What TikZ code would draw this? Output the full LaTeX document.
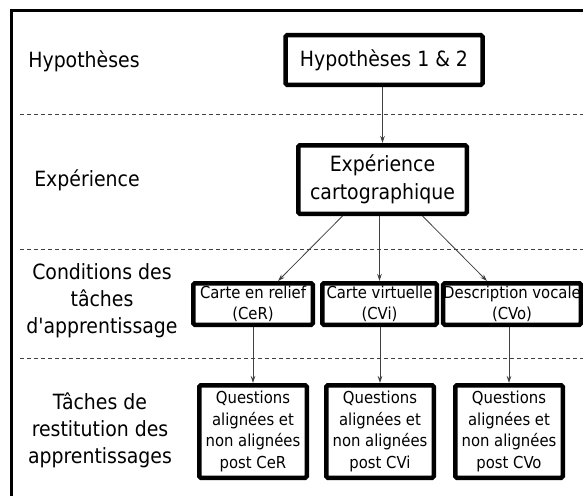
\documentclass[tikz,border=0pt]{standalone}
\usepackage{fontspec}
\setmainfont{DejaVu Sans Condensed}[Ligatures=TeXOff]
\usetikzlibrary{arrows.meta,calc}
\begin{document}
\begin{tikzpicture}[x=1pt,y=-1pt,
  box/.style={draw,line width=4.5pt,rounded corners=1.5pt,align=center,inner sep=0pt},
  big/.style={font=\fontsize{21}{28}\selectfont},
  small/.style={font=\fontsize{16.5}{21.5}\selectfont},
  lab/.style={align=center,inner sep=0pt,font=\fontsize{21}{27}\selectfont},
  arr/.style={draw=black!75,line width=0.8pt,-{Stealth[length=7pt,width=4.5pt]}},
  sep/.style={draw=black!75,line width=0.8pt,dash pattern=on 4pt off 3pt}]
\useasboundingbox (0,0) rectangle (583,495);
\clip (0,0) rectangle (583,495);
\fill[white] (0,0) rectangle (583,495);
% frame
\draw[line width=3pt] (11,11) rectangle (620,530);
% separators
\coordinate (s1a) at (20,114); \coordinate (s1b) at (583,114);
\coordinate (s2a) at (20,249); \coordinate (s2b) at (583,249);
\coordinate (s3a) at (20,358); \coordinate (s3b) at (583,358);
\draw[sep] (s1a) -- (s1b);
\draw[sep] (s2a) -- (s2b);
\draw[sep] (s3a) -- (s3b);
% left labels
\node[lab] (l1) at (84,61) {Hypothèses};
\node[lab] (l2) at (87,180) {Expérience};
\node[lab] (l3) at (102,301) {Conditions des\\tâches\\d'apprentissage};
\node[lab] (l4) at (100,430) {Tâches de\\restitution des\\apprentissages};
% boxes
\node[box,big,minimum width=197pt,minimum height=49.5pt] (hyp) at (384,60) {Hypothèses 1 \& 2};
\node[box,big,minimum width=168.5pt,minimum height=68.5pt] (exp) at (382.5,179.5) {Expérience\\cartographique};
\node[box,small,minimum width=119.5pt,minimum height=41.5pt] (cer) at (253,304) {Carte en relief\\(CeR)};
\node[box,small,minimum width=114.5pt,minimum height=41.5pt] (cvi) at (379.5,304) {Carte virtuelle\\(CVi)};
\node[box,small,minimum width=135.5pt,minimum height=41.5pt] (cvo) at (512,304) {Description vocale\\(CVo)};
\node[box,small,minimum width=107.5pt,minimum height=92.5pt] (q1) at (253,431.5) {Questions\\alignées et\\non alignées\\post CeR};
\node[box,small,minimum width=107.5pt,minimum height=92.5pt] (q2) at (380,431.5) {Questions\\alignées et\\non alignées\\post CVi};
\node[box,small,minimum width=107.5pt,minimum height=92.5pt] (q3) at (509,431.5) {Questions\\alignées et\\non alignées\\post CVo};
% connectors
\draw[arr] (hyp.south -| exp.north) -- (exp.north);
\draw[arr] ($(exp.south)+(-40,0)$) -- ($(cer.north)+(25,0)$);
\draw[arr] (exp.south -| cvi.north) -- (cvi.north);
\draw[arr] ($(exp.south)+(40,0)$) -- ($(cvo.north)+(-25,0)$);
\draw[arr] (cer.south) -- (q1.north);
\draw[arr] (cvi.south -| q2.north) -- (q2.north);
\draw[arr] (cvo.south -| q3.north) -- (q3.north);
\end{tikzpicture}
\end{document}
